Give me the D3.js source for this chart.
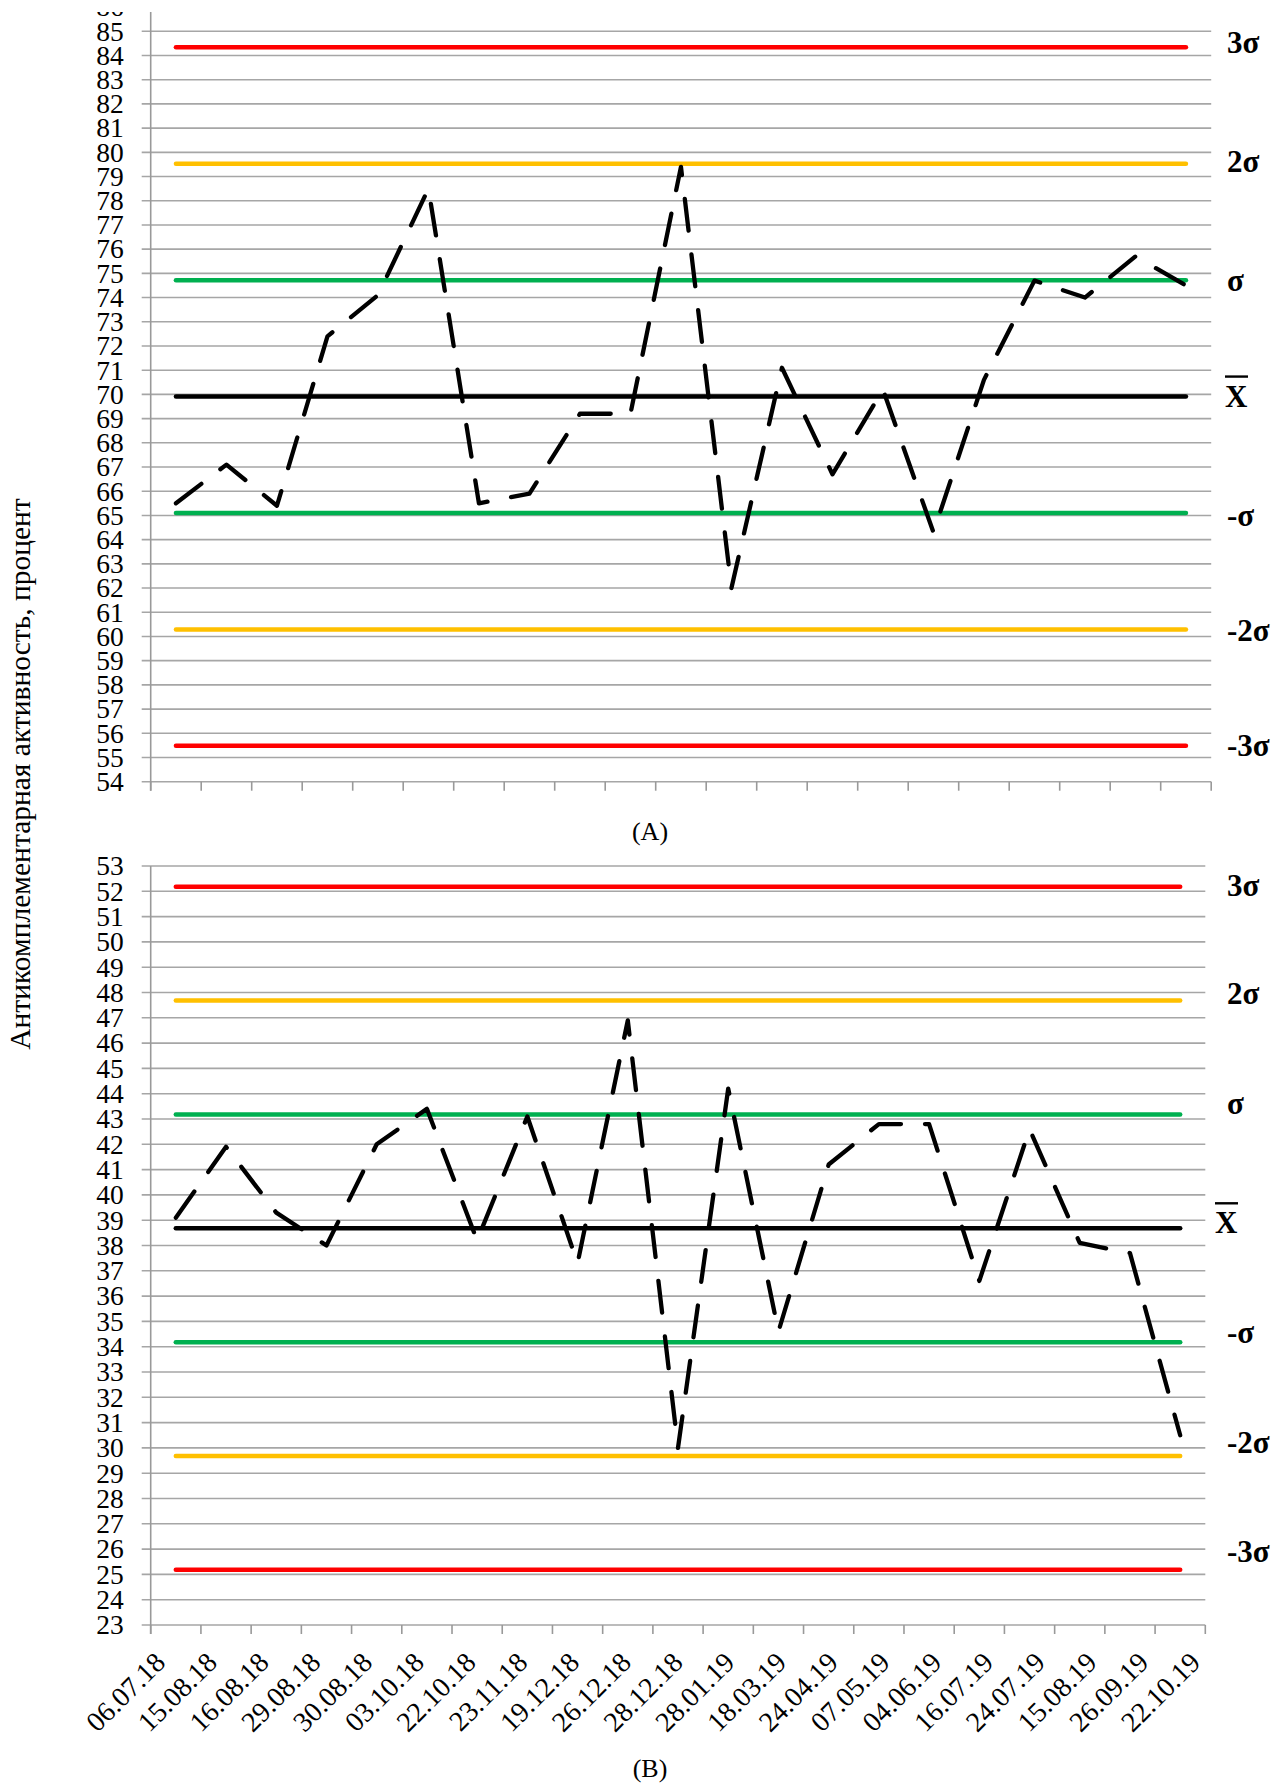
<!DOCTYPE html>
<html>
<head>
<meta charset="utf-8">
<script src="https://cdn.jsdelivr.net/npm/d3@7/dist/d3.min.js"></script>
<style>
  html, body { margin: 0; padding: 0; background: #fff; }
  svg { display: block; }
  text { font-family: "Liberation Serif", "Times New Roman", serif; fill: #000; }
</style>
</head>
<body>
<svg id="chart" width="1279" height="1785"></svg>
<script>
// Sampling dates (shared by both control charts)
const dates = ["06.07.18","15.08.18","16.08.18","29.08.18","30.08.18","03.10.18","22.10.18",
  "23.11.18","19.12.18","26.12.18","28.12.18","28.01.19","18.03.19","24.04.19","07.05.19",
  "04.06.19","16.07.19","24.07.19","15.08.19","26.09.19","22.10.19"];

// Panel A: measured values, %
const seriesA = [65.5, 67.1, 65.4, 72.4, 74.1, 78.5, 65.5, 65.9, 69.2, 69.2, 79.4,
  62.0, 71.1, 66.7, 70.2, 64.3, 70.6, 74.7, 74.0, 75.7, 74.5];
// Panel A: control limits (+3σ, +2σ, +σ, mean, -σ, -2σ, -3σ)
const limitsA = [84.34, 79.53, 74.72, 69.91, 65.10, 60.29, 55.48];
const ticksA = d3.range(54, 87);

// Panel B: measured values, %
const seriesB = [39.1, 41.9, 39.3, 38.0, 42.0, 43.4, 38.2, 43.1, 37.3, 46.9, 30.0,
  44.2, 34.6, 41.2, 42.8, 42.8, 36.6, 42.6, 38.1, 37.7, 30.5];
// Panel B: control limits
const limitsB = [52.18, 47.68, 43.18, 38.68, 34.18, 29.68, 25.18];
const ticksB = d3.range(23, 54);

const limitLabels = ["3σ", "2σ", "σ", "x̄", "-σ", "-2σ", "-3σ"];
const limitColors = ["#ff0000", "#ffc000", "#00b050", "#000000", "#00b050", "#ffc000", "#ff0000"];

const yTitle = "Антикомплементарная активность, процент";
const panelTitles = ["(A)", "(B)"];

const svg = d3.select("#chart");
svg.append("rect").attr("width", 1279).attr("height", 1785).attr("fill", "#fff");

const defs = svg.append("defs");
defs.append("clipPath").attr("id", "clipA")
  .append("rect").attr("x", 0).attr("y", 12).attr("width", 1279).attr("height", 800);

const gridColor = "#a6a6a6";
const axisColor = "#999999";

function drawPanel(opts) {
  const g = svg.append("g").attr("clip-path", opts.clip ? `url(#${opts.clip})` : null);

  const x = d3.scaleBand().domain(dates).range([opts.x0, opts.x1]).padding(0);
  const y = d3.scaleLinear().domain(opts.yDomain).range(opts.yRange);
  const yBottom = y(opts.ticks[0]);
  const yTop = y(opts.ticks[opts.ticks.length - 1]);

  // horizontal grid
  g.append("g").selectAll("line").data(opts.ticks).join("line")
    .attr("x1", opts.x0 - 9).attr("x2", opts.x1)
    .attr("y1", d => y(d)).attr("y2", d => y(d))
    .attr("stroke", gridColor).attr("stroke-width", 1.6);

  // y axis with labels
  const yAxis = d3.axisLeft(y).tickValues(opts.ticks).tickSize(0).tickPadding(27)
    .tickFormat(d3.format("d"));
  const ya = g.append("g").attr("transform", `translate(${opts.x0},0)`).call(yAxis);
  ya.select(".domain").remove();
  ya.selectAll("text").attr("font-size", 27.5).attr("fill", "#000");

  // vertical axis line
  g.append("line").attr("x1", opts.x0).attr("x2", opts.x0)
    .attr("y1", yTop).attr("y2", yBottom + 9)
    .attr("stroke", axisColor).attr("stroke-width", 1.6);

  // category ticks at band boundaries
  const bounds = dates.map(d => x(d)).concat([opts.x1]);
  g.append("g").selectAll("line").data(bounds).join("line")
    .attr("x1", d => d).attr("x2", d => d)
    .attr("y1", yBottom).attr("y2", yBottom + 9)
    .attr("stroke", axisColor).attr("stroke-width", 1.6);

  const cx = d => x(d) + x.bandwidth() / 2;
  const xFirst = cx(dates[0]);
  const xLast = cx(dates[dates.length - 1]);

  // control limit lines
  g.append("g").selectAll("line").data(opts.limits).join("line")
    .attr("x1", xFirst).attr("x2", xLast)
    .attr("y1", d => y(d)).attr("y2", d => y(d))
    .attr("stroke", (d, i) => limitColors[i])
    .attr("stroke-width", 4.5).attr("stroke-linecap", "round");

  // measured series, dashed
  const line = d3.line().x((v, i) => cx(dates[i])).y(v => y(v));
  g.append("path").datum(opts.series)
    .attr("d", line).attr("fill", "none").attr("stroke", "#000")
    .attr("stroke-width", 4.3).attr("stroke-dasharray", "32,24")
    .attr("stroke-linecap", "round").attr("stroke-linejoin", "round");

  // limit labels on the right
  const lg = g.append("g");
  opts.limits.forEach((v, k) => {
    const by = y(v) + opts.labelOffsets[k];
    const lab = limitLabels[k];
    if (lab === "x̄") {
      lg.append("text").attr("x", opts.meanX).attr("y", by)
        .attr("font-size", 31).attr("font-weight", "bold").attr("fill", "#16163a")
        .text("X");
      lg.append("line").attr("x1", opts.meanX).attr("x2", opts.meanX + 23)
        .attr("y1", by - 30).attr("y2", by - 30)
        .attr("stroke", "#000").attr("stroke-width", 2.4);
    } else {
      lg.append("text").attr("x", opts.labelX).attr("y", by)
        .attr("font-size", 31).attr("font-weight", "bold").text(lab);
    }
  });

  return { x, y, yBottom };
}

// Panel A
drawPanel({
  clip: "clipA",
  x0: 150.7, x1: 1211.2,
  yDomain: [54, 85], yRange: [781.7, 31.3],
  ticks: ticksA, limits: limitsA, series: seriesA,
  labelX: 1227, meanX: 1225,
  labelOffsets: [6, 8, 11, 10, 13, 12, 10]
});

// Panel B
drawPanel({
  clip: null,
  x0: 150.7, x1: 1205.3,
  yDomain: [23, 53], yRange: [1625, 866],
  ticks: ticksB, limits: limitsB, series: seriesB,
  labelX: 1227, meanX: 1215,
  labelOffsets: [9, 3, 0, 5, 1, -3, -8]
});

// Date labels under panel B
const xLab = d3.scaleBand().domain(dates).range([135, 1221.7]);
svg.append("g").selectAll("text").data(dates).join("text")
  .attr("transform", d => `translate(${xLab(d) + xLab.bandwidth() / 2 + 6},1664) rotate(-45)`)
  .attr("text-anchor", "end")
  .attr("font-size", 28)
  .text(d => d);

// Panel captions
svg.append("text").attr("x", 650).attr("y", 840).attr("text-anchor", "middle")
  .attr("font-size", 26).text(panelTitles[0]);
svg.append("text").attr("x", 650).attr("y", 1777).attr("text-anchor", "middle")
  .attr("font-size", 26).text(panelTitles[1]);

// Shared y-axis title
svg.append("text")
  .attr("transform", "translate(30,774) rotate(-90)")
  .attr("text-anchor", "middle")
  .attr("font-size", 29.5)
  .text(yTitle);
</script>
</body>
</html>
